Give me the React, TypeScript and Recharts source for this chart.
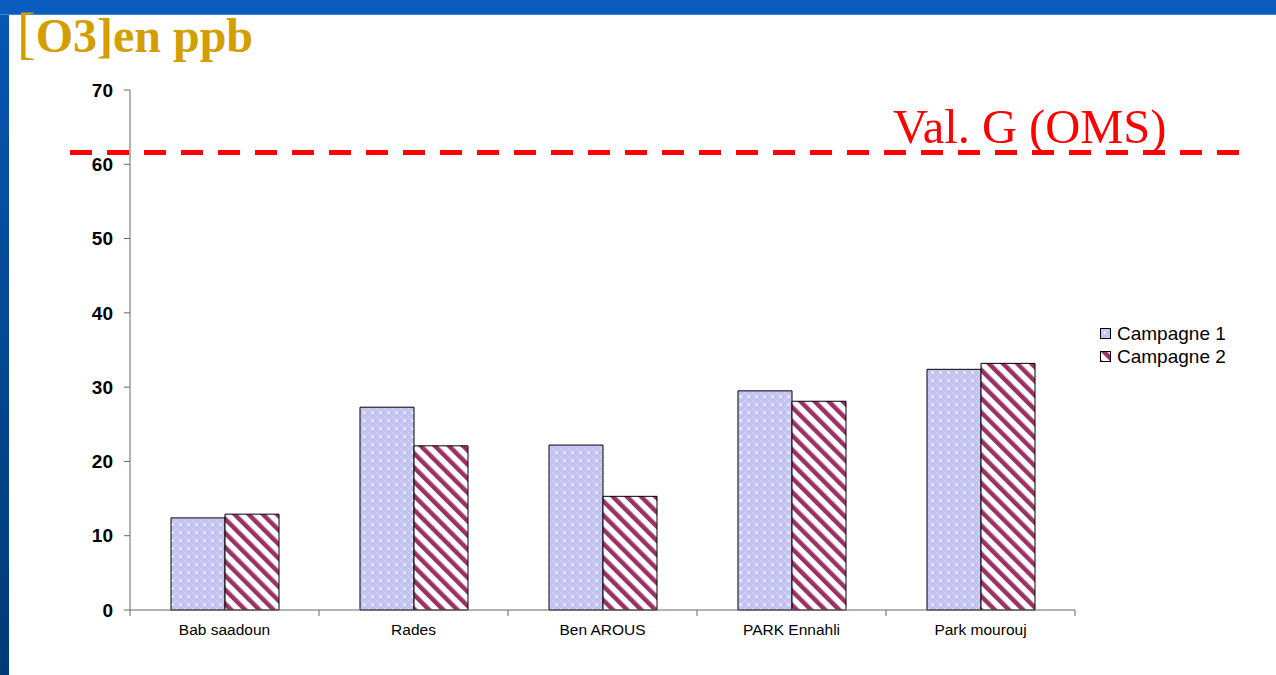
import {
  Bar,
  BarChart,
  Legend,
  ReferenceLine,
  XAxis,
  YAxis,
} from "recharts";

const sites = ["Bab saadoun", "Rades", "Ben AROUS", "PARK Ennahli", "Park mourouj"];
const campagne1 = [12.4, 27.3, 22.2, 29.5, 32.4];
const campagne2 = [12.9, 22.1, 15.3, 28.1, 33.2];
const yTicks = [0, 10, 20, 30, 40, 50, 60, 70];
const seuilOMS = 61.6;
const seuilLabel = "Val. G (OMS)";

const data = sites.map((site, i) => ({
  site,
  c1: campagne1[i],
  c2: campagne2[i],
}));

const MAROON = "#993366";
const LAVENDER = "#c2c2f7";

function Patterns() {
  return (
    <defs>
      <pattern id="pat-c1" width="8" height="8" patternUnits="userSpaceOnUse">
        <rect width="8" height="8" fill={LAVENDER} />
        <rect x="0" y="0" width="1" height="1" fill="#e6e6ff" />
        <rect x="2" y="2" width="1" height="1" fill="#e6e6ff" />
        <rect x="6" y="2" width="1" height="1" fill="#e6e6ff" />
        <rect x="2" y="6" width="1" height="1" fill="#e6e6ff" />
        <rect x="6" y="6" width="1" height="1" fill="#e6e6ff" />
        <rect x="4" y="3" width="1" height="3" fill="#ffffff" />
        <rect x="3" y="4" width="3" height="1" fill="#ffffff" />
      </pattern>
      <pattern
        id="pat-c2"
        width="10"
        height="10"
        patternUnits="userSpaceOnUse"
        patternTransform="rotate(-45)"
      >
        <rect width="10" height="10" fill="#ffffff" />
        <rect x="0" y="0" width="4.5" height="10" fill={MAROON} />
      </pattern>
    </defs>
  );
}

function SiteTick(props: any) {
  const { x, y, payload, index } = props;
  const half = payload?.offset ?? 0;
  const axisY = y - 14;
  return (
    <g>
      {half ? (
        <line x1={x - half} y1={axisY} x2={x - half} y2={axisY + 6} stroke="#666" />
      ) : null}
      {half && index === sites.length - 1 ? (
        <line x1={x + half} y1={axisY} x2={x + half} y2={axisY + 6} stroke="#666" />
      ) : null}
      <text
        x={x}
        y={y}
        dy="0.71em"
        textAnchor="middle"
        fill="#000"
        fontSize={15.5}
        fontFamily="'Liberation Sans', Arial, sans-serif"
      >
        {payload.value}
      </text>
    </g>
  );
}

function SeuilLine(props: any) {
  const { x1, y1, x2 } = props;
  return (
    <g>
      <line
        x1={x1 - 60}
        y1={y1}
        x2={x2 + 172}
        y2={y1}
        stroke="#ff0000"
        strokeWidth={5}
        strokeDasharray="22 15"
      />
      <text
        x={x2 - 182}
        y={y1 - 9}
        fill="#ff0000"
        fontSize={48.5}
        fontFamily="'Liberation Serif', 'Times New Roman', serif"
      >
        {seuilLabel}
      </text>
    </g>
  );
}

function LegendBox() {
  const items = [
    { label: "Campagne 1", fill: "url(#pat-c1)" },
    { label: "Campagne 2", fill: "url(#pat-c2)" },
  ];
  return (
    <div style={{ fontFamily: "'Liberation Sans', Arial, sans-serif", fontSize: 19 }}>
      {items.map((it) => (
        <div key={it.label} style={{ display: "flex", alignItems: "center", height: 23 }}>
          <svg width={12} height={12} style={{ marginRight: 5 }}>
            <rect x={0.5} y={0.5} width={10} height={10} fill={it.fill} stroke="#000" />
          </svg>
          <span>{it.label}</span>
        </div>
      ))}
    </div>
  );
}

export default function App() {
  return (
    <div
      style={{
        position: "absolute",
        left: 0,
        top: 0,
        width: 1276,
        height: 675,
        overflow: "hidden",
        background: "linear-gradient(#0856b2, #003a75)",
      }}
    >
      <div
        style={{
          position: "absolute",
          left: 0,
          top: 0,
          width: 1276,
          height: 14,
          background: "#0a5cbf",
          borderBottom: "1px solid #3a88d8",
        }}
      />
      <div
        style={{
          position: "absolute",
          left: 9,
          top: 15,
          width: 1267,
          height: 660,
          background: "#ffffff",
        }}
      />
      <svg
        width={300}
        height={75}
        style={{ position: "absolute", left: 0, top: 0 }}
      >
        <text
          x={17}
          y={52}
          fill="#d39e00"
          fontFamily="'Liberation Serif', 'Times New Roman', serif"
        >
          <tspan fontSize={56}>[</tspan>
          <tspan fontSize={48} fontWeight="bold">O3]en ppb</tspan>
        </text>
      </svg>
      <div style={{ position: "absolute", left: 0, top: 0 }}>
        <BarChart
          width={1276}
          height={675}
          data={data}
          margin={{ top: 90, right: 201, bottom: 35, left: 0 }}
          barGap={0}
          barSize={54}
        >
          <Patterns />
          <XAxis
            dataKey="site"
            height={30}
            tickLine={false}
            tickSize={6}
            tickMargin={8}
            axisLine={{ stroke: "#666" }}
            tick={<SiteTick />}
            interval={0}
          />
          <YAxis
            width={130}
            domain={[0, 70]}
            ticks={yTicks}
            tickSize={6}
            tickMargin={11}
            axisLine={{ stroke: "#666" }}
            tickLine={{ stroke: "#666" }}
            tick={{
              fill: "#000",
              fontSize: 19,
              fontWeight: "bold",
              fontFamily: "'Liberation Sans', Arial, sans-serif",
            }}
            interval={0}
          />
          <Bar
            dataKey="c1"
            name="Campagne 1"
            fill="url(#pat-c1)"
            stroke="#000"
            strokeWidth={1}
            isAnimationActive={false}
          />
          <Bar
            dataKey="c2"
            name="Campagne 2"
            fill="url(#pat-c2)"
            stroke="#000"
            strokeWidth={1}
            isAnimationActive={false}
          />
          <ReferenceLine y={seuilOMS} shape={<SeuilLine />} />
          <Legend
            layout="vertical"
            align="center"
            verticalAlign="middle"
            content={<LegendBox />}
            wrapperStyle={{ position: "absolute", left: 1100, top: 322, width: 170 }}
          />
        </BarChart>
      </div>
    </div>
  );
}
